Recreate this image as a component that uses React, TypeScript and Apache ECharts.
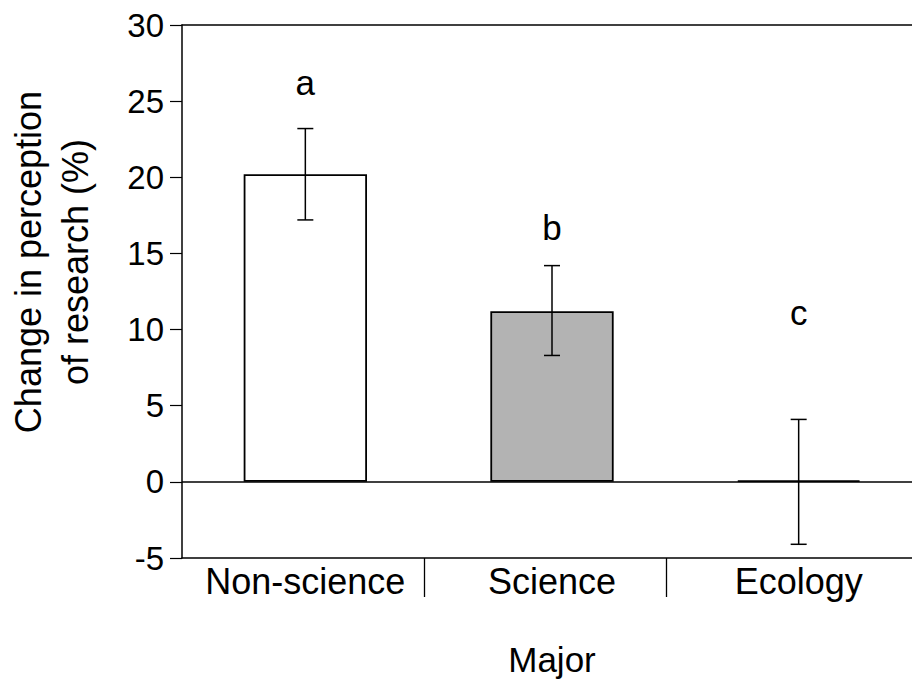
import React, { useEffect, useRef } from "react";
import * as echarts from "echarts";

const categories = ["Non-science", "Science", "Ecology"];
const means = [20.2, 11.2, 0.1];
const errLow = [17.2, 8.3, -4.1];
const errHigh = [23.2, 14.2, 4.1];
const letters = ["a", "b", "c"];
const letterValues = [26.2, 16.7, 11.1];
const barColors = ["#ffffff", "#b3b3b3", "#ffffff"];
const yMin = -5;
const yMax = 30;
const yStep = 5;
// separator marks under the category axis, in category-width units from the left edge
const separatorTicks = [0.981, 1.965];
const yTitleLines = ["Change in perception", "of research (%)"];
const xTitle = "Major";

const FONT = "'Liberation Sans', Arial, Helvetica, sans-serif";
const FS = 36;
const FS_TICK = 33;

export default function App() {
  const ref = useRef<HTMLDivElement>(null);
  useEffect(() => {
    if (!ref.current) return;
    const chart = echarts.init(ref.current, null, { renderer: "svg" });
    const option: any = {
      animation: false,
      backgroundColor: "#ffffff",
      textStyle: { fontFamily: FONT, color: "#000" },
      grid: {
        left: 182,
        top: 25,
        bottom: 124,
        right: -10,
        containLabel: false,
        outerBoundsMode: "none",
      },
      xAxis: [
        {
          type: "category",
          data: categories,
          position: "bottom",
          axisLine: { show: true, onZero: false, lineStyle: { color: "#000", width: 1.5 } },
          axisTick: { show: false },
          axisLabel: { interval: 0, fontSize: FS, color: "#000", fontFamily: FONT, margin: 5 },
          name: xTitle,
          nameLocation: "middle",
          nameGap: 84,
          nameTextStyle: { fontSize: 35, color: "#000", fontFamily: FONT },
          splitLine: { show: false },
        },
        {
          type: "value",
          min: 0,
          max: 3,
          interval: 1,
          position: "bottom",
          axisLine: { show: false, onZero: false },
          axisTick: { show: true, customValues: separatorTicks, length: 39, lineStyle: { color: "#000", width: 1.3 } },
          axisLabel: { show: false },
          splitLine: { show: false },
        },
        {
          type: "value",
          min: 0,
          max: 3,
          position: "top",
          axisLine: { show: true, onZero: false, lineStyle: { color: "#000", width: 1.5 } },
          axisTick: { show: false },
          axisLabel: { show: false },
          splitLine: { show: false },
        },
      ],
      yAxis: {
        type: "value",
        min: yMin,
        max: yMax,
        interval: yStep,
        axisLine: { show: true, lineStyle: { color: "#000", width: 1.5 } },
        axisTick: { show: true, length: 12, lineStyle: { color: "#000", width: 1.2 } },
        axisLabel: { fontSize: FS_TICK, color: "#000", fontFamily: FONT, margin: 18 },
        splitLine: { show: false },
      },
      series: [
        {
          type: "bar",
          xAxisIndex: 0,
          data: means.map((v, i) => ({
            value: v,
            itemStyle: { color: barColors[i], borderColor: "#000", borderWidth: 1.8 },
          })),
          barWidth: "50%",
          markLine: {
            silent: true,
            symbol: "none",
            label: { show: false },
            lineStyle: { color: "#000", width: 1.5, type: "solid" },
            data: [{ yAxis: 0 }],
          },
        },
        {
          type: "custom",
          xAxisIndex: 0,
          data: categories.map((c, i) => [i, errLow[i], errHigh[i]]),
          encode: { x: 0, y: [1, 2] },
          renderItem: (params: any, api: any) => {
            const x = api.value(0);
            const lo = api.coord([x, api.value(1)]);
            const hi = api.coord([x, api.value(2)]);
            const half = 8;
            const style = { stroke: "#000", lineWidth: 1.5 };
            return {
              type: "group",
              children: [
                { type: "line", shape: { x1: lo[0], y1: lo[1], x2: hi[0], y2: hi[1] }, style },
                { type: "line", shape: { x1: lo[0] - half, y1: lo[1], x2: lo[0] + half, y2: lo[1] }, style },
                { type: "line", shape: { x1: hi[0] - half, y1: hi[1], x2: hi[0] + half, y2: hi[1] }, style },
              ],
            };
          },
          z: 5,
        },
        {
          type: "custom",
          xAxisIndex: 0,
          data: categories.map((c, i) => [i, letterValues[i]]),
          encode: { x: 0, y: 1 },
          renderItem: (params: any, api: any) => {
            const p = api.coord([api.value(0), api.value(1)]);
            return {
              type: "text",
              x: p[0],
              y: p[1],
              style: {
                text: letters[params.dataIndex],
                fontSize: 35,
                fontFamily: FONT,
                fill: "#000",
                align: "center",
                verticalAlign: "middle",
              },
            };
          },
          z: 5,
        },
      ],
      graphic: [
        {
          type: "text",
          x: 52,
          y: 262,
          rotation: Math.PI / 2,
          style: {
            text: yTitleLines.join("\n"),
            fontSize: FS,
            fontFamily: FONT,
            fill: "#000",
            align: "center",
            verticalAlign: "middle",
            lineHeight: 47,
          },
        },
      ],
    };
    chart.setOption(option);
    return () => chart.dispose();
  }, []);
  return (
    <div
      ref={ref}
      style={{ position: "absolute", left: 0, top: 0, width: 912, height: 682 }}
    />
  );
}
